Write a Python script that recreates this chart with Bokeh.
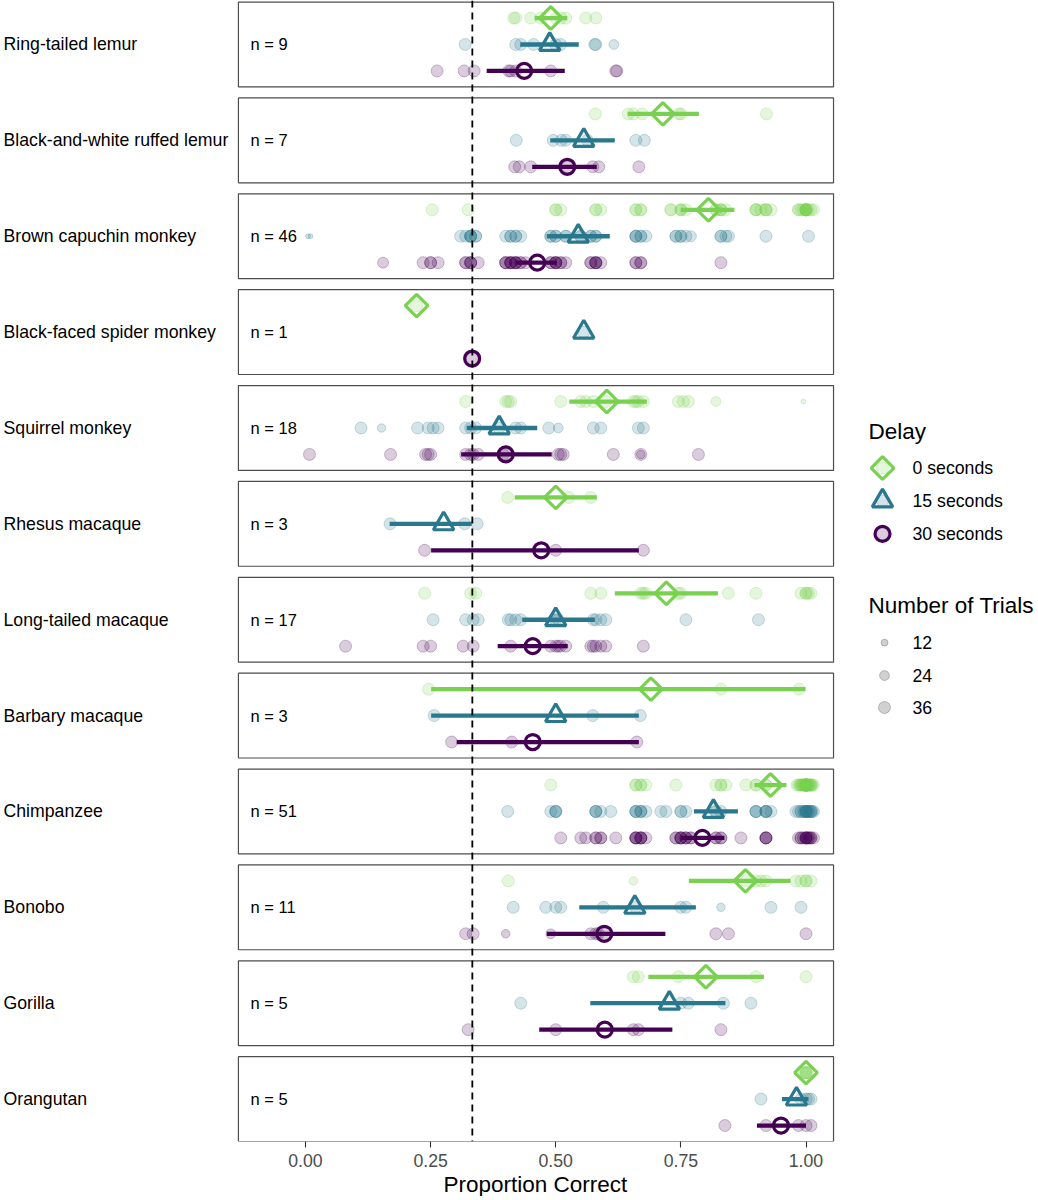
import math
from bokeh.plotting import figure
from bokeh.models import Span, FixedTicker, NumeralTickFormatter, Range1d, Title
from bokeh.core.properties import value
from bokeh.embed import file_html
from bokeh.resources import INLINE

# ---------------- data ----------------
species = ["Ring-tailed lemur", "Black-and-white ruffed lemur", "Brown capuchin monkey",
           "Black-faced spider monkey", "Squirrel monkey", "Rhesus macaque",
           "Long-tailed macaque", "Barbary macaque", "Chimpanzee", "Bonobo",
           "Gorilla", "Orangutan"]
n_subjects = [9, 7, 46, 1, 18, 3, 17, 3, 51, 11, 5, 5]
delays = ["0 seconds", "15 seconds", "30 seconds"]
delay_colors = ["#7AD151", "#2A788E", "#440154"]
size_legend_trials = [12, 24, 36]
tick_values = [0.0, 0.25, 0.5, 0.75, 1.0]
chance_level = 1 / 3

# group means and interval ends (per species, per delay)
mean_0 = [0.490, 0.714, 0.805, 0.222, 0.602, 0.500, 0.721, 0.690, 0.929, 0.879, 0.800, 1.000]
lo_0 = [0.458, 0.644, 0.750, 0.222, 0.527, 0.418, 0.618, 0.251, 0.897, 0.766, 0.685, 1.000]
hi_0 = [0.523, 0.786, 0.857, 0.222, 0.682, 0.582, 0.824, 0.999, 0.961, 0.969, 0.916, 1.000]
mean_15 = [0.488, 0.556, 0.545, 0.556, 0.387, 0.276, 0.500, 0.500, 0.815, 0.658, 0.727, 0.981]
lo_15 = [0.429, 0.489, 0.482, 0.556, 0.322, 0.168, 0.433, 0.251, 0.776, 0.547, 0.569, 0.952]
hi_15 = [0.546, 0.618, 0.608, 0.556, 0.463, 0.332, 0.578, 0.666, 0.864, 0.780, 0.839, 1.005]
mean_30 = [0.437, 0.523, 0.463, 0.333, 0.400, 0.471, 0.454, 0.454, 0.793, 0.597, 0.598, 0.950]
lo_30 = [0.362, 0.453, 0.421, 0.333, 0.311, 0.251, 0.384, 0.302, 0.750, 0.482, 0.467, 0.902]
hi_30 = [0.518, 0.582, 0.502, 0.333, 0.492, 0.666, 0.524, 0.666, 0.837, 0.719, 0.733, 1.000]

# individual proportions correct (one list per species)
x_0 = [
    [0.416, 0.42, 0.45, 0.47, 0.50, 0.51, 0.52, 0.56, 0.58],
    [0.579, 0.645, 0.655, 0.673, 0.75, 0.746, 0.921],
    [0.253, 0.325, 0.50, 0.50, 0.51, 0.58, 0.58, 0.59, 0.66, 0.66, 0.67, 0.67, 0.73, 0.73,
     0.75, 0.75, 0.75, 0.76, 0.82, 0.82, 0.83, 0.83, 0.83, 0.84, 0.90, 0.90, 0.90, 0.91,
     0.92, 0.92, 0.92, 0.93, 0.985, 0.985, 0.99, 0.995, 1.0, 1.0, 1.0, 1.0, 1.0, 1.0,
     1.005, 1.01, 1.015, 1.0],
    [0.222],
    [0.32, 0.40, 0.405, 0.41, 0.51, 0.55, 0.56, 0.575, 0.60, 0.655, 0.66, 0.665, 0.675,
     0.745, 0.755, 0.765, 0.82, 0.995],
    [0.404, 0.526, 0.57],
    [0.238, 0.33, 0.34, 0.57, 0.59, 0.67, 0.675, 0.68, 0.745, 0.75, 0.845, 0.90, 0.99,
     1.0, 1.0, 1.005, 1.01],
    [0.246, 0.83, 0.986],
    [0.49, 0.66, 0.66, 0.67, 0.67, 0.68, 0.74, 0.82, 0.83, 0.83, 0.84, 0.88, 0.90, 0.90,
     0.92, 0.92, 0.982, 0.985, 0.988, 0.99, 0.99, 0.992, 0.995, 0.995, 0.997, 0.998,
     1.0, 1.0, 1.0, 1.0, 1.0, 1.0, 1.0, 1.0, 1.0, 1.0, 1.0, 1.0, 1.0, 1.0, 1.0,
     1.002, 1.003, 1.005, 1.005, 1.007, 1.008, 1.01, 1.01, 1.012, 1.015],
    [0.405, 0.655, 0.88, 0.90, 0.91, 0.92, 0.98, 0.99, 1.0, 1.0, 1.01],
    [0.655, 0.665, 0.745, 0.90, 1.0],
    [0.997, 1.0, 1.0, 1.0, 1.003],
]
t_0 = [
    [36, 36, 36, 36, 36, 36, 36, 36, 36],
    [36, 36, 36, 36, 36, 36, 36],
    [36, 36, 36, 36, 36, 36, 36, 36, 36, 36, 36, 36, 36, 36, 36, 36, 30, 36, 36, 36, 36,
     36, 36, 36, 36, 36, 36, 36, 36, 36, 36, 36, 36, 36, 36, 36, 36, 36, 36, 36, 36, 36,
     36, 36, 36, 36],
    [36],
    [36, 36, 36, 36, 36, 36, 36, 36, 36, 36, 36, 36, 36, 36, 36, 36, 24, 6],
    [36, 36, 36],
    [36, 36, 36, 36, 36, 36, 36, 36, 36, 36, 36, 36, 36, 36, 36, 36, 36],
    [36, 36, 36],
    [36, 36, 36, 36, 36, 36, 36, 36, 36, 36, 36, 36, 36, 36, 36, 36, 36, 36, 36, 36, 36,
     36, 36, 36, 36, 36, 36, 36, 36, 36, 36, 36, 36, 36, 36, 36, 36, 36, 36, 36, 36, 36,
     36, 36, 36, 36, 36, 36, 36, 36, 36],
    [36, 18, 36, 36, 36, 36, 36, 36, 36, 36, 36],
    [36, 36, 36, 36, 36],
    [36, 36, 36, 36, 36],
]
x_15 = [
    [0.319, 0.42, 0.43, 0.456, 0.50, 0.51, 0.578, 0.58, 0.616],
    [0.421, 0.495, 0.511, 0.52, 0.563, 0.66, 0.677],
    [0.005, 0.01, 0.31, 0.32, 0.33, 0.33, 0.33, 0.33, 0.34, 0.34, 0.40, 0.41, 0.41, 0.42,
     0.42, 0.43, 0.49, 0.49, 0.50, 0.50, 0.52, 0.52, 0.55, 0.55, 0.57, 0.57, 0.58, 0.58,
     0.66, 0.66, 0.66, 0.67, 0.67, 0.68, 0.74, 0.74, 0.75, 0.75, 0.76, 0.77, 0.83, 0.83,
     0.84, 0.845, 0.92, 1.005],
    [0.556],
    [0.111, 0.152, 0.224, 0.245, 0.255, 0.265, 0.32, 0.33, 0.34, 0.387, 0.42, 0.43,
     0.486, 0.505, 0.575, 0.59, 0.665, 0.675],
    [0.169, 0.318, 0.343],
    [0.255, 0.32, 0.335, 0.345, 0.405, 0.41, 0.42, 0.43, 0.495, 0.50, 0.505, 0.575,
     0.58, 0.59, 0.60, 0.76, 0.905],
    [0.257, 0.574, 0.669],
    [0.404, 0.49, 0.50, 0.50, 0.50, 0.58, 0.58, 0.58, 0.59, 0.61, 0.66, 0.66, 0.66, 0.67,
     0.67, 0.67, 0.68, 0.71, 0.72, 0.75, 0.75, 0.76, 0.82, 0.82, 0.83, 0.90, 0.90, 0.90,
     0.92, 0.92, 0.92, 0.92, 0.93, 0.98, 0.985, 0.99, 0.99, 0.995, 0.997, 1.0, 1.0, 1.0,
     1.0, 1.002, 1.005, 1.005, 1.008, 1.01, 1.01, 1.012, 1.015],
    [0.415, 0.48, 0.50, 0.51, 0.595, 0.66, 0.75, 0.76, 0.83, 0.93, 0.99],
    [0.43, 0.75, 0.765, 0.835, 0.89],
    [0.91, 0.99, 1.0, 1.005, 1.01],
]
t_15 = [
    [36, 36, 36, 36, 36, 36, 36, 36, 24],
    [36, 36, 36, 36, 36, 36, 36],
    [6, 6, 36, 36, 36, 36, 36, 36, 36, 36, 36, 36, 36, 36, 36, 36, 36, 36, 36, 36, 36,
     36, 36, 36, 36, 36, 36, 36, 36, 36, 36, 36, 36, 36, 36, 36, 36, 36, 36, 30, 36, 36,
     36, 36, 36, 36],
    [36],
    [36, 18, 36, 36, 36, 36, 36, 36, 36, 36, 36, 36, 36, 24, 36, 36, 36, 36],
    [36, 36, 36],
    [36, 36, 36, 36, 36, 36, 36, 36, 36, 36, 36, 36, 36, 36, 36, 36, 36],
    [36, 36, 36],
    [36, 36, 36, 36, 36, 36, 36, 36, 36, 36, 36, 36, 36, 36, 36, 36, 36, 36, 36, 36, 36,
     36, 36, 36, 36, 36, 36, 36, 36, 36, 36, 36, 36, 36, 36, 36, 36, 36, 36, 36, 36, 36,
     36, 36, 36, 36, 36, 36, 36, 36, 36],
    [36, 36, 36, 36, 36, 36, 36, 36, 18, 36, 36],
    [36, 36, 36, 36, 36],
    [36, 36, 36, 36, 36],
]
x_30 = [
    [0.263, 0.317, 0.337, 0.406, 0.41, 0.42, 0.49, 0.62, 0.622],
    [0.418, 0.427, 0.45, 0.524, 0.574, 0.586, 0.666],
    [0.155, 0.235, 0.25, 0.25, 0.265, 0.32, 0.32, 0.33, 0.33, 0.33, 0.345, 0.40, 0.40,
     0.40, 0.41, 0.41, 0.41, 0.41, 0.42, 0.42, 0.42, 0.42, 0.43, 0.43, 0.44, 0.49, 0.49,
     0.50, 0.50, 0.50, 0.50, 0.51, 0.51, 0.52, 0.57, 0.57, 0.58, 0.58, 0.58, 0.58, 0.59,
     0.66, 0.66, 0.67, 0.67, 0.83],
    [0.333],
    [0.008, 0.17, 0.24, 0.245, 0.25, 0.32, 0.33, 0.335, 0.345, 0.395, 0.40, 0.505, 0.51,
     0.515, 0.615, 0.67, 0.67, 0.785],
    [0.238, 0.50, 0.675],
    [0.08, 0.235, 0.25, 0.315, 0.335, 0.41, 0.49, 0.50, 0.505, 0.51, 0.52, 0.57, 0.575,
     0.58, 0.59, 0.60, 0.675],
    [0.292, 0.412, 0.662],
    [0.51, 0.55, 0.56, 0.58, 0.58, 0.59, 0.59, 0.62, 0.66, 0.66, 0.66, 0.66, 0.67, 0.67,
     0.67, 0.67, 0.68, 0.74, 0.74, 0.75, 0.75, 0.75, 0.75, 0.76, 0.76, 0.76, 0.77, 0.77,
     0.82, 0.82, 0.83, 0.83, 0.87, 0.92, 0.92, 0.92, 0.92, 0.985, 0.99, 0.99, 0.995,
     1.0, 1.0, 1.0, 1.0, 1.003, 1.005, 1.007, 1.01, 1.01, 1.015],
    [0.32, 0.335, 0.40, 0.49, 0.57, 0.58, 0.585, 0.60, 0.82, 0.845, 1.0],
    [0.325, 0.50, 0.655, 0.665, 0.83],
    [0.838, 0.92, 0.985, 1.0, 1.01],
]
t_30 = [
    [36, 36, 36, 36, 36, 36, 36, 36, 36],
    [36, 36, 36, 36, 36, 36, 36],
    [30, 36, 36, 36, 36, 36, 36, 36, 36, 36, 36, 36, 36, 36, 36, 36, 36, 36, 36, 36, 36,
     36, 36, 36, 36, 36, 36, 36, 36, 36, 36, 36, 36, 36, 36, 36, 36, 36, 36, 36, 36, 36,
     36, 36, 36, 36],
    [36],
    [36, 36, 36, 36, 36, 36, 36, 36, 36, 36, 36, 36, 36, 36, 36, 36, 18, 36],
    [36, 36, 36],
    [36, 36, 36, 36, 36, 36, 36, 36, 36, 36, 36, 36, 36, 36, 36, 36, 36],
    [36, 36, 36],
    [36, 36, 36, 36, 36, 36, 36, 36, 36, 36, 36, 36, 36, 36, 36, 36, 36, 36, 36, 36, 36,
     36, 36, 36, 36, 36, 36, 36, 36, 36, 36, 36, 36, 36, 36, 36, 36, 36, 36, 36, 36, 36,
     36, 36, 36, 36, 36, 36, 36, 36, 36],
    [36, 36, 18, 24, 36, 36, 36, 36, 36, 36, 36],
    [36, 36, 36, 36, 36],
    [36, 36, 36, 36, 36],
]

# ---------------- layout constants ----------------
FONT = "Liberation Sans"
PITCH = 3.626          # panel pitch in row units
HALF = 1.604           # half panel height in row units
X_LO, X_HI = -0.134, 1.055
PX_PER_X = 500.5
X0_PX = 305.0
FRAME_W = 1038
PXU = 26.45
BORDER = "#4D4D4D"


def xd(ref_x):
    return (ref_x - 305.0) / PX_PER_X


def yd(ref_y):
    return -(ref_y - 44.5) / 26.5


def trial_size(t):
    return 2.0 * math.sqrt(t)


centers = [-k * PITCH for k in range(len(species))]
row_offset = [1.0, 0.0, -1.0]
y_end = HALF + 0.06
y_start = centers[-1] - HALF
FRAME_H = int(round((y_end - y_start) * PXU))

p = figure(frame_width=FRAME_W, frame_height=FRAME_H,
           x_range=Range1d(-X0_PX / PX_PER_X, (FRAME_W - X0_PX) / PX_PER_X),
           y_range=Range1d(y_start, y_end),
           output_backend="svg", toolbar_location=None, y_axis_location=None,
           min_border_left=0, min_border_right=0, min_border_top=0, min_border_bottom=0)
p.outline_line_color = None
p.xgrid.visible = False
p.ygrid.visible = False
p.background_fill_color = "white"

ax = p.xaxis[0]
ax.ticker = FixedTicker(ticks=tick_values, minor_ticks=[])
ax.formatter = NumeralTickFormatter(format="0.00")
ax.axis_line_color = None
ax.major_tick_in = 0
ax.major_tick_out = 6
ax.major_tick_line_color = "#333333"
ax.major_tick_line_width = 1.1
ax.minor_tick_line_color = None
ax.major_label_text_font = FONT
ax.major_label_text_font_size = "17.7px"
ax.major_label_text_color = "#4D4D4D"
ax.major_label_standoff = 6

p.add_layout(Title(text="Proportion Correct", align="left", offset=443, standoff=0,
                   text_font=FONT, text_font_size="22.5px", text_font_style="normal",
                   text_color="black"), "below")

x_sets = [x_0, x_15, x_30]
t_sets = [t_0, t_15, t_30]
means = [mean_0, mean_15, mean_30]
los = [lo_0, lo_15, lo_30]
his = [hi_0, hi_15, hi_30]

# individual points
for d in range(3):
    c = delay_colors[d]
    xs, ys, ss = [], [], []
    for k in range(len(species)):
        for xv, tv in zip(x_sets[d][k], t_sets[d][k]):
            xs.append(xv)
            ys.append(centers[k] + row_offset[d])
            ss.append(trial_size(tv))
    p.scatter(x=xs, y=ys, size=ss, marker="circle", fill_color=c, fill_alpha=0.2,
              line_color=c, line_alpha=0.25, line_width=1)

# interval bars and means
mean_marker = [("square", 16, math.pi / 4), ("triangle", 20.5, 0.0), ("circle", 15, 0.0)]
for d in range(3):
    c = delay_colors[d]
    ys = [centers[k] + row_offset[d] for k in range(len(species))]
    p.segment(x0=los[d], y0=ys, x1=his[d], y1=ys, line_color=c, line_width=4.3)
    mk, sz, ang = mean_marker[d]
    p.scatter(x=means[d], y=ys, marker=mk, size=sz, angle=ang, fill_color=None,
              line_color=c, line_width=3.2)

# panel borders
p.quad(left=[X_LO] * len(species), right=[X_HI] * len(species),
       bottom=[cc - HALF for cc in centers], top=[cc + HALF for cc in centers],
       fill_color=None, line_color=BORDER, line_width=1.2)

# chance line
p.add_layout(Span(location=chance_level, dimension="height", line_color="black",
                  line_width=1.8, line_dash="7 5"))

# species labels and n labels
p.text(x=[xd(3)] * len(species), y=centers, text=species, text_font=value(FONT),
       text_font_size="17.7px", text_color="black", text_align="left",
       text_baseline="middle")
p.text(x=[xd(250)] * len(species), y=centers, text=[f"n = {n}" for n in n_subjects],
       text_font=value(FONT), text_font_size="16.5px", text_color="black",
       text_align="left", text_baseline="middle")

# legend: Delay
p.text(x=[xd(868)], y=[yd(432)], text=["Delay"], text_font=value(FONT),
       text_font_size="22.5px", text_color="black", text_align="left", text_baseline="middle")
key_y = [yd(469), yd(502), yd(535)]
for d in range(3):
    c = delay_colors[d]
    p.scatter(x=[xd(882)], y=[key_y[d]], size=trial_size(36), marker="circle",
              fill_color=c, fill_alpha=0.2, line_color=c, line_alpha=0.25, line_width=1)
    mk, sz, ang = mean_marker[d]
    p.scatter(x=[xd(882)], y=[key_y[d]], marker=mk, size=sz, angle=ang, fill_color=None,
              line_color=c, line_width=3.2)
p.text(x=[xd(912)] * 3, y=key_y, text=delays, text_font=value(FONT),
       text_font_size="17.7px", text_color="black", text_align="left", text_baseline="middle")

# legend: Number of Trials
p.text(x=[xd(868)], y=[yd(607)], text=["Number of Trials"], text_font=value(FONT),
       text_font_size="22.5px", text_color="black", text_align="left", text_baseline="middle")
size_y = [yd(644), yd(677), yd(709)]
p.scatter(x=[xd(884)] * 3, y=size_y, size=[trial_size(t) for t in size_legend_trials],
          marker="circle", fill_color="black", fill_alpha=0.18, line_color="black",
          line_alpha=0.22, line_width=1)
p.text(x=[xd(912)] * 3, y=size_y, text=[str(t) for t in size_legend_trials],
       text_font=value(FONT), text_font_size="17.7px", text_color="black",
       text_align="left", text_baseline="middle")

open("out.html", "w").write(file_html(p, INLINE))
